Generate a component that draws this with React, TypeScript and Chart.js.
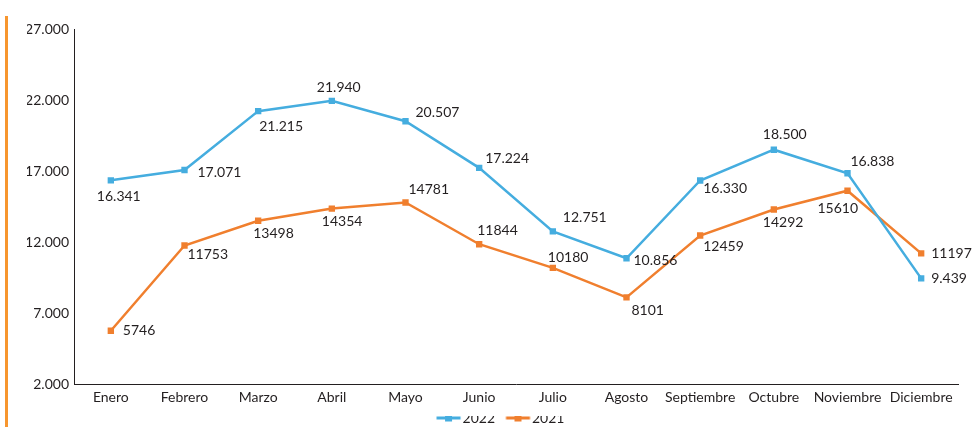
import React, { useEffect, useRef } from 'react';
import { Chart, registerables } from 'chart.js';

Chart.register(...registerables);

const months = ['Enero', 'Febrero', 'Marzo', 'Abril', 'Mayo', 'Junio', 'Julio', 'Agosto', 'Septiembre', 'Octubre', 'Noviembre', 'Diciembre'];
const values2022 = [16341, 17071, 21215, 21940, 20507, 17224, 12751, 10856, 16330, 18500, 16838, 9439];
const values2021 = [5746, 11753, 13498, 14354, 14781, 11844, 10180, 8101, 12459, 14292, 15610, 11197];
const yMin = 2000;
const yMax = 27000;
const yStep = 5000;

// label placement (left edge dx, vertical centre dy) relative to each point
const offsets2022: [number, number][] = [[-14, 16], [13, 2], [1, 15], [-15, -13], [10, -9], [6, -9], [10, -14], [7, 2], [3, 8], [-11, -15], [3, -12], [10, 0]];
const offsets2021: [number, number][] = [[12, 0], [3, 9], [-5, 13], [-10, 13], [3, -13], [-2, -14], [-5, -10], [5, 13], [3, 11], [-11, 13], [-30, 18], [10, 0]];

const BLUE = '#45ADDF';
const ORANGE = '#F07F2E';
const SIDE = '#F7962F';
const TEXT = '#231F20';
const FONT = 'Lato, "DejaVu Sans", sans-serif';

const dotted = (v: number) => String(v).replace(/\B(?=(\d{3})+(?!\d))/g, '.');

function makeMarker(color: string) {
  const c = document.createElement('canvas');
  c.width = 48;
  c.height = 8;
  const ctx = c.getContext('2d')!;
  ctx.fillStyle = color;
  ctx.fillRect(22.5, 2.5, 24, 3);
  ctx.fillRect(31, 0.5, 7, 7);
  return c;
}

export default function App() {
  const ref = useRef<HTMLCanvasElement>(null);

  useEffect(() => {
    if (!ref.current) return;
    const markers = [makeMarker(BLUE), makeMarker(ORANGE)];
    const formats = [dotted, (v: number) => String(v)];
    const offs = [offsets2022, offsets2021];

    const sideBar = {
      id: 'sideBar',
      beforeDraw(chart: any) {
        const ctx = chart.ctx;
        ctx.save();
        ctx.fillStyle = SIDE;
        ctx.fillRect(5, 16, 3, chart.height - 16);
        ctx.restore();
      },
    };

    const valueLabels = {
      id: 'valueLabels',
      afterDatasetsDraw(chart: any) {
        const ctx = chart.ctx;
        ctx.save();
        ctx.font = `14px ${FONT}`;
        ctx.fillStyle = TEXT;
        ctx.textAlign = 'left';
        ctx.textBaseline = 'middle';
        chart.data.datasets.forEach((ds: any, i: number) => {
          const meta = chart.getDatasetMeta(i);
          meta.data.forEach((pt: any, j: number) => {
            const [dx, dy] = offs[i][j];
            ctx.fillText(formats[i](ds.data[j]), pt.x + dx, pt.y + dy);
          });
        });
        ctx.restore();
      },
    };

    const chart = new Chart(ref.current, {
      type: 'line',
      data: {
        labels: months,
        datasets: [
          { label: '2022', data: values2022, borderColor: BLUE, backgroundColor: BLUE, borderWidth: 2.5, pointStyle: 'rect', pointRadius: 4.5, pointBorderWidth: 0, pointBackgroundColor: BLUE, tension: 0 },
          { label: '2021', data: values2021, borderColor: ORANGE, backgroundColor: ORANGE, borderWidth: 2.5, pointStyle: 'rect', pointRadius: 4.5, pointBorderWidth: 0, pointBackgroundColor: ORANGE, tension: 0 },
        ],
      },
      options: {
        responsive: false,
        animation: false,
        layout: { padding: { top: 29, left: 27, right: 15, bottom: -8 } },
        scales: {
          x: {
            offset: true,
            grid: { display: false, drawTicks: false },
            border: { display: true, color: TEXT, width: 1 },
            ticks: { color: TEXT, padding: 5, maxRotation: 0, autoSkip: false, font: { family: FONT, size: 14 } },
            afterFit: (s: any) => { s.height = 32; },
          },
          y: {
            min: yMin, max: yMax,
            grid: { display: false, drawTicks: false },
            border: { display: true, color: TEXT, width: 1 },
            ticks: { stepSize: yStep, color: TEXT, padding: 5, font: { family: FONT, size: 14 }, callback: (v: any) => dotted(Number(v)) },
            afterFit: (s: any) => { s.width = 47; },
          },
        },
        plugins: {
          tooltip: { enabled: false },
          legend: {
            position: 'bottom',
            labels: {
              color: TEXT,
              font: { family: FONT, size: 14 },
              usePointStyle: true,
              pointStyleWidth: 35,
              padding: -5,
              generateLabels: (c: any) =>
                Chart.defaults.plugins.legend.labels.generateLabels(c).map((l: any, i: number) => ({ ...l, pointStyle: markers[i] })),
            },
          },
        },
      },
      plugins: [sideBar, valueLabels],
    });
    return () => chart.destroy();
  }, []);

  return (
    <div style={{ position: 'fixed', left: 0, top: 0, width: 973, height: 427, background: '#fff' }}>
      <canvas ref={ref} width={973} height={427} />
    </div>
  );
}
